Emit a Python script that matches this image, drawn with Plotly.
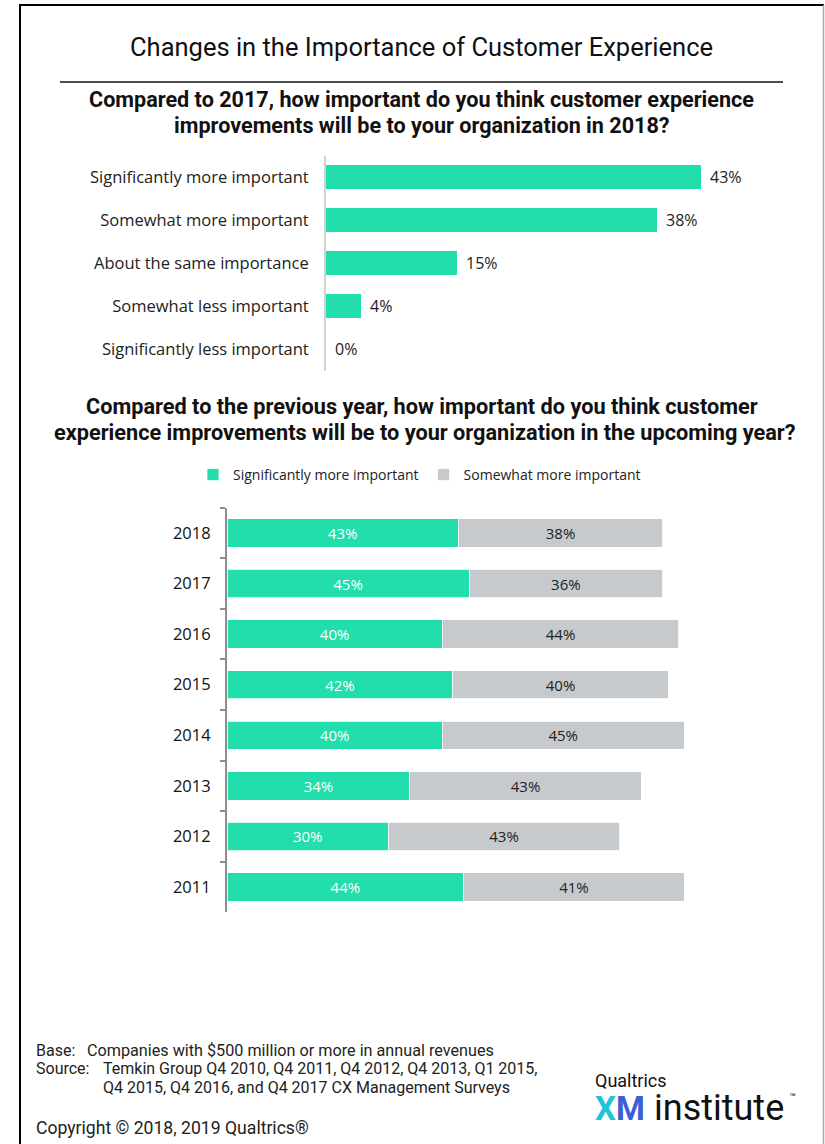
import plotly.graph_objects as go

W, H = 825, 1144


def px(x):
    return x / W


def py(y):
    return 1 - y / H


GREEN = "#22DDAC"
GREY = "#C7CACD"
TEXT = "#222222"
FONT = "Roboto"
CHART_FONT = "Open Sans"

# Survey: importance of CX improvements in 2018 vs 2017
levels = [
    "Significantly more important",
    "Somewhat more important",
    "About the same importance",
    "Somewhat less important",
    "Significantly less important",
]
share_2018 = [43, 38, 15, 4, 0]

# Year-by-year trend
years = ["2018", "2017", "2016", "2015", "2014", "2013", "2012", "2011"]
sig_more = [43, 45, 40, 42, 40, 34, 30, 44]
some_more = [38, 36, 44, 40, 45, 43, 43, 41]
series_names = ["Significantly more important", "Somewhat more important"]

fig = go.Figure()

fig.add_trace(go.Bar(
    x=share_2018, y=levels, orientation="h",
    marker=dict(color=GREEN, line=dict(width=0)),
    xaxis="x", yaxis="y", showlegend=False,
    hovertemplate="%{y}: %{x}%<extra></extra>",
))

fig.add_trace(go.Bar(
    x=sig_more, y=years, orientation="h", name=series_names[0],
    marker=dict(color=GREEN, line=dict(width=0.8, color="white")),
    text=[f"{v}%" for v in sig_more], textposition="inside",
    insidetextanchor="middle", textangle=0,
    insidetextfont=dict(color="white", size=15, family=CHART_FONT),
    xaxis="x2", yaxis="y2",
    hovertemplate="%{y}: %{x}%<extra></extra>",
))
fig.add_trace(go.Bar(
    x=some_more, y=years, orientation="h", name=series_names[1],
    marker=dict(color=GREY, line=dict(width=0.8, color="white")),
    text=[f"{v}%" for v in some_more], textposition="inside",
    insidetextanchor="middle", textangle=0,
    insidetextfont=dict(color=TEXT, size=15, family=CHART_FONT),
    xaxis="x2", yaxis="y2",
    hovertemplate="%{y}: %{x}%<extra></extra>",
))

annotations = []

# value labels to the right of the top bars
for lvl, v in zip(levels, share_2018):
    annotations.append(dict(
        x=v, y=lvl, xref="x", yref="y", text=f"{v}%", showarrow=False,
        xanchor="left", xshift=7, font=dict(size=16, color=TEXT, family=CHART_FONT),
    ))


def label(x, y, text, size, color=TEXT, anchor="left", family=FONT):
    annotations.append(dict(
        x=px(x), y=py(y), xref="paper", yref="paper", text=text,
        showarrow=False, xanchor=anchor, yanchor="middle",
        font=dict(size=size, color=color, family=family),
    ))


label(422, 47, "Changes in the Importance of Customer Experience", 25.5,
      color="#111111", anchor="center")
label(422, 100, "<b>Compared to 2017, how important do you think customer experience</b>",
      21.6, color="#111111", anchor="center")
label(422, 126, "<b>improvements will be to your organization in 2018?</b>",
      21.6, color="#111111", anchor="center")
label(422, 406, "<b>Compared to the previous year, how important do you think customer</b>",
      21.7, color="#111111", anchor="center")
label(425, 432, "<b>experience improvements will be to your organization in the upcoming year?</b>",
      21.7, color="#111111", anchor="center")

# footnotes
label(34, 1050, "Base:", 16)
label(85, 1050, "Companies with $500 million or more in annual revenues", 16.2)
label(34, 1068, "Source:", 16)
label(101, 1068, "Temkin Group Q4 2010, Q4 2011, Q4 2012, Q4 2013, Q1 2015,", 16)
label(101, 1087, "Q4 2015, Q4 2016, and Q4 2017 CX Management Surveys", 16)
label(34, 1128, "Copyright © 2018, 2019 Qualtrics®", 17.6)

# logo text
label(593, 1080, "Qualtrics", 18, color="#111111")
label(593, 1108,
      "<b><span style='color:#1FC3DA'>X</span><span style='color:#3D5FD6'>M</span></b>",
      33)
label(652, 1108, "institute", 36, color="#111111")
label(787, 1097, "™", 11, color="#111111")

shapes = [
    dict(type="line", xref="paper", yref="paper", x0=px(60), x1=px(783),
         y0=py(82), y1=py(82), line=dict(color="#111111", width=1.5)),
    dict(type="line", xref="paper", yref="paper", x0=px(19), x1=px(824),
         y0=py(5), y1=py(5), line=dict(color="#000000", width=2)),
    dict(type="line", xref="paper", yref="paper", x0=px(20), x1=px(20),
         y0=py(4), y1=0, line=dict(color="#000000", width=2)),
    dict(type="line", xref="paper", yref="paper", x0=px(823.5), x1=px(823.5),
         y0=py(5), y1=0, line=dict(color="#A8A8A8", width=1.5)),
]

fig.update_layout(
    width=W, height=H, margin=dict(l=0, r=0, t=0, b=0),
    paper_bgcolor="white", plot_bgcolor="white",
    font=dict(family=FONT, color=TEXT),
    barmode="stack", bargap=0.44,
    showlegend=True,
    legend=dict(orientation="h", x=px(193), y=py(475), xanchor="left",
                yanchor="middle", font=dict(size=14, color=TEXT, family=CHART_FONT),
                bgcolor="rgba(0,0,0,0)", traceorder="normal"),
    annotations=annotations, shapes=shapes,
    xaxis=dict(domain=[px(326), px(790)], range=[0, 53.2], visible=False,
               fixedrange=True),
    yaxis=dict(domain=[py(370.5), py(155.5)], type="category",
               categoryorder="array", categoryarray=levels, autorange="reversed",
               showline=True, linecolor="#D2D2D2", linewidth=2, ticks="",
               showgrid=False, zeroline=False, ticklabelstandoff=12,
               tickfont=dict(size=16.5, color=TEXT, family=CHART_FONT), anchor="x"),
    xaxis2=dict(domain=[px(227), px(780)], range=[0, 102.8], visible=False,
                fixedrange=True, anchor="y2"),
    yaxis2=dict(domain=[py(912.3), py(507.7)], type="category",
                categoryorder="array", categoryarray=years, autorange="reversed",
                showline=True, linecolor="#8E8E8E", linewidth=2,
                ticks="outside", ticklen=5, tickwidth=1.5, tickcolor="#8E8E8E",
                tickson="boundaries", showgrid=False, zeroline=False,
                ticklabelstandoff=11,
                tickfont=dict(size=16.5, color="#111111", family=CHART_FONT), anchor="x2"),
)

fig.write_html("out.html")
